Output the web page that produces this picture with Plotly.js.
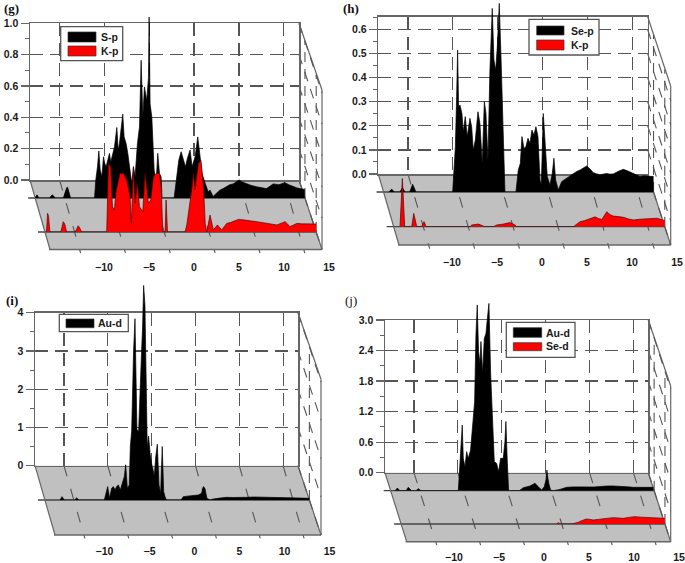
<!DOCTYPE html>
<html><head><meta charset="utf-8">
<script src="https://cdn.plot.ly/plotly-3.0.1.min.js"></script>
<style>html,body{margin:0;padding:0;background:#fff}#c{width:685px;height:563px}</style>
</head><body><div id="c"></div>
<script>
// ---------- data (energy in eV, partial DOS) ----------
const xTickLabels = [-10,-5,0,5,10,15];
const gYTicks = [0,0.2,0.4,0.6,0.8,1.0];
const hYTicks = [0,0.1,0.2,0.3,0.4,0.5,0.6];
const iYTicks = [0,1,2,3,4];
const jYTicks = [0,0.6,1.2,1.8,2.4,3.0];

const gSpX = [-16.32,-16.2,-16.1,-16,-15.92,-14.73,-14.55,-14.4,-14.25,-14.1,-13.17,-13.05,-12.95,-12.8,-12.69,-12.5,-12.36,-9.7,-9.56,-9.37,-9.22,-9.07,-8.89,-8.7,-8.56,-8.41,-8.22,-8.04,-7.89,-7.67,-7.48,-7.22,-7.07,-6.93,-6.7,-6.56,-6.41,-6.19,-6,-5.74,-5.56,-5.37,-5.19,-4.93,-4.7,-4.52,-4.41,-4.33,-4.15,-3.89,-3.7,-3.63,-3.52,-3.33,-3.07,-2.85,-2.67,-2.48,-2.3,-2.19,-0.85,-0.56,-0.33,-0.07,0.19,0.41,0.63,0.93,1.15,1.48,1.78,1.96,2.11,2.26,2.48,2.7,2.93,3.15,3.49,3.85,4.23,4.6,4.97,5.34,5.71,6.05,6.38,6.8,7.19,7.75,8.31,8.85,9.42,9.8,10.16,10.8,11.46,11.9,12.38,12.75,13.12,13.68];
const gSpY = [0,0.015,0.02,0.012,0,0,0.014,0.02,0.013,0,0,0.025,0.05,0.066,0.068,0.035,0,0,0.115,0.2,0.3,0.18,0.136,0.263,0.22,0.2,0.253,0.285,0.23,0.285,0.327,0.45,0.306,0.348,0.476,0.535,0.39,0.348,0.285,0.157,0.093,0.2,0.136,0.348,0.454,0.879,0.688,0.518,0.709,0.624,0.77,1.155,0.6,0.518,0.178,0.093,0.285,0.157,0.136,0,0,0.157,0.242,0.295,0.242,0.2,0.253,0.306,0.2,0.263,0.39,0.306,0.242,0.157,0.115,0.083,0.04,0.05,0.01,0.03,0.05,0.06,0.072,0.085,0.09,0.1,0.115,0.1,0.09,0.08,0.072,0.066,0.06,0.075,0.09,0.085,0.098,0.085,0.072,0.066,0.06,0.055];
const gKpX = [-16.13,-16.07,-16.01,-15.9,-15.76,-14.54,-14.4,-14.28,-14.1,-13.91,-12.95,-12.78,-12.62,-12.45,-12.25,-9.47,-9.28,-9.03,-8.84,-8.62,-8.44,-8,-7.62,-7.25,-6.89,-6.74,-6.52,-6.33,-6.07,-5.85,-5.48,-5.22,-4.86,-4.6,-4.3,-4,-3.64,-3.45,-3.27,-3.01,-2.9,-2.75,-0.8,-0.6,-0.43,-0.2,0,0.13,0.31,0.5,0.68,0.94,1.1,1.23,1.35,1.42,1.59,1.96,2.32,2.77,3.25,3.8,4.2,4.54,4.8,5.09,5.55,6.01,6.55,7.12,7.7,8.23,8.8,9.34,9.8,10.26,10.55,10.81,11.2,11.55,12.1,12.66,13.2,13.69];
const gKpY = [0,0.1,0.119,0.1,0,0,0.05,0.066,0.05,0,0,0.025,0.04,0.025,0,0,0.437,0.416,0.161,0.14,0.257,0.374,0.374,0.331,0.225,0.055,0.416,0.183,0.31,0.161,0.13,0.374,0.183,0.204,0.352,0.374,0.374,0.289,0,0,0.204,0,0,0.05,0.119,0.2,0.3,0.374,0.268,0.36,0.437,0.459,0.38,0.289,0.15,0.055,0,0.108,0.013,0.045,0.013,0.055,0.06,0.066,0.075,0.08,0.078,0.076,0.07,0.066,0.06,0.055,0.05,0.045,0.055,0.066,0.05,0.034,0.045,0.055,0.052,0.051,0.053,0.051];

const hSepX = [-15.7,-15.4,-15.1,-14.5,-14.2,-13.9,-13.4,-13.22,-13.07,-12.9,-12.7,-8.62,-8.47,-8.32,-8.18,-8.07,-7.96,-7.81,-7.59,-7.44,-7.22,-7,-6.7,-6.51,-6.33,-6.1,-5.81,-5.59,-5.33,-5.1,-4.92,-4.7,-4.48,-4.22,-4.03,-3.84,-3.66,-3.44,-3.25,-3.1,-2.92,-2.81,-1.59,-1.33,-1.1,-0.92,-0.7,-0.48,-0.25,-0.03,0.19,0.41,0.63,0.86,1.08,1.23,1.45,1.67,1.89,2.19,2.45,2.63,2.82,3.12,3.49,3.76,4.04,4.4,4.78,5.15,5.53,5.9,6.27,6.65,7.01,7.4,7.75,8.1,8.49,8.85,9.23,9.8,10.34,10.8,11.27,11.75,12.2,12.6,12.94,13.35,13.75];
const hSepY = [0,0.012,0,0,0.017,0,0,0.02,0.032,0.018,0,0,0.077,0.188,0.396,0.589,0.354,0.361,0.326,0.25,0.313,0.23,0.306,0.271,0.174,0.216,0.333,0.285,0.119,0.375,0.326,0.133,0.506,0.762,0.548,0.506,0.603,0.783,0.562,0.396,0.174,0,0,0.091,0.119,0.23,0.181,0.188,0.223,0.202,0.257,0.236,0.271,0.23,0.05,0.029,0.326,0.202,0.064,0.029,0.077,0.14,0.05,0.008,0.043,0.05,0.057,0.068,0.077,0.085,0.091,0.1,0.108,0.095,0.08,0.075,0.071,0.074,0.077,0.074,0.075,0.086,0.094,0.088,0.08,0.072,0.064,0.067,0.066,0.063,0.064];
const hKpX = [-15.6,-15.5,-15.42,-15.34,-15.26,-15.18,-15.08,-14.3,-14.18,-14.08,-13.92,-13.75,-13.2,-13.06,-12.94,-12.83,-12.72,-7.85,-7.66,-6.93,-6.19,-5.27,-4.9,-4.16,-3.42,-2.87,-2.68,3.59,3.95,4.33,4.8,5.25,5.6,5.99,6.35,6.73,7,7.28,7.65,8.02,8.55,9.12,9.7,10.23,10.95,11.7,12.25,12.82,13.3,13.74];
const hKpY = [0,0.07,0.15,0.2,0.14,0.05,0,0,0.035,0.055,0.03,0,0,0.012,0.021,0.012,0,0,0.007,0.011,0,0,0.007,0.011,0.017,0.007,0,0,0.012,0.021,0.025,0.03,0.037,0.041,0.034,0.03,0.045,0.062,0.05,0.044,0.042,0.039,0.032,0.028,0.031,0.032,0.034,0.035,0.03,0.025];

const iAuX = [-14.59,-14.36,-14.1,-12.89,-12.7,-12.47,-9.56,-9.37,-9.18,-8.96,-8.73,-8.54,-8.35,-8.16,-7.97,-7.75,-7.52,-7.29,-7.14,-6.95,-6.73,-6.61,-6.46,-6.35,-6.24,-6.08,-5.97,-5.86,-5.67,-5.48,-5.33,-5.22,-5.1,-4.95,-4.84,-4.69,-4.54,-4.35,-4.12,-3.89,-3.74,-3.55,-3.36,-3.17,-2.99,-2.83,-2.68,-2.53,-0.87,-0.6,0.34,1.1,1.47,1.66,1.85,2.08,2.42,2.8,3.55,4.31,5.05,5.82,6.6,7.33,8.1,8.84,9.6,10.36,11.1,11.87,12.8,13.76];
const iAuY = [0,0.088,0,0,0.061,0,0,0.22,0.35,0.044,0.307,0.35,0.263,0.35,0.395,0.263,0.439,0.614,0.921,0.307,0.395,1.4,1.8,3.03,3.9,4.74,3.03,1.84,1.8,2.76,3.9,4.52,5.61,5.09,2.94,1.36,1.67,1.18,0.85,0.6,1.1,1.46,0.39,0.175,1.4,0.22,0.09,0,0,0.088,0.114,0.13,0.175,0.35,0.307,0.044,0,0.026,0.05,0.07,0.066,0.061,0.07,0.079,0.077,0.079,0.07,0.061,0.058,0.053,0.05,0.044];

const jAuX = [-15.8,-15.54,-15.24,-14.55,-14.3,-13.91,-13.42,-13.15,-12.85,-8.6,-8.49,-8.34,-8.15,-8.03,-7.84,-7.65,-7.46,-7.2,-6.97,-6.74,-6.59,-6.44,-6.29,-6.14,-6.02,-5.83,-5.64,-5.45,-5.3,-5.11,-4.92,-4.73,-4.5,-4.24,-4.01,-3.78,-3.48,-3.29,-3.18,-3.02,-2.87,-1.66,-1.2,-0.44,0.13,0.51,0.89,1.19,1.38,1.49,1.65,1.91,2.22,2.98,3.36,3.74,4.5,5.26,6,6.78,7.5,8.3,9.05,9.81,10.6,11.33,12.5,13.61];
const jAuY = [0,0.052,0,0,0.066,0,0,0.04,0,0,0.308,0.8,1.29,0.636,0.47,0.767,0.636,0.8,1.36,1.75,3.06,3.65,2.73,2.5,2.93,2.31,2.99,3.09,3.36,3.68,2.31,1.36,0.57,0.537,0.374,0.636,0.636,0.963,1.36,0.57,0,0,0.059,0.092,0.144,0.079,0.013,0.079,0.21,0.406,0.177,0.013,0,0.026,0.045,0.066,0.075,0.079,0.075,0.072,0.085,0.092,0.093,0.092,0.078,0.066,0.066,0.066];
const jSeX = [1.38,1.57,1.83,3.08,3.45,3.84,4.3,4.79,5.15,5.55,6.1,6.68,7.25,7.82,8.4,8.95,9.6,10.28,10.95,11.6,12.2,12.74,13.2,13.69];
const jSeY = [0,0.026,0,0,0.015,0.033,0.07,0.098,0.09,0.079,0.09,0.105,0.118,0.125,0.118,0.111,0.13,0.144,0.135,0.131,0.128,0.125,0.12,0.111];

// ---------- panel geometry (page pixels) ----------
const W = 685, H = 563, X_MIN = -16.3, X_MAX = 13.7;
const panels = [
 {tag:'(g)', tagX:11, tagY:8, tagBold:true, L:30, R:299, T:23.3, B:180, F:249.5, LF:50, RF:322, TS:90,
  yTop:1.0, yTicks:gYTicks, yFmt:'.1f', yMinor:0.1, zero:194, labelY:259, clip:2,
  series:[{name:'S-p',x:gSpX,y:gSpY,base:198,color:'#000'},{name:'K-p',x:gKpX,y:gKpY,base:232,color:'#f00'}],
  box:[60.7,122.7,26.7,60.7], swX:[68,96], swY:[[32,42],[46,56]], txtX:99, txtY:[37,51]},
 {tag:'(h)', tagX:351, tagY:8, tagBold:true, L:378.3, R:647.7, T:16.7, B:174, F:245, LF:399, RF:670.7, TS:86,
  yTop:0.653, yTicks:hYTicks, yFmt:'.1f', yMinor:0.05, zero:542, labelY:254, clip:1,
  series:[{name:'Se-p',x:hSepX,y:hSepY,base:192,color:'#000'},{name:'K-p',x:hKpX,y:hKpY,base:226.7,color:'#f00'}],
  box:[529,599,19.3,55], swX:[536.7,564], swY:[[26,35],[40,50]], txtX:569, txtY:[30.7,45]},
 {tag:'(i)', tagX:12, tagY:300, tagBold:true, L:35, R:298, T:312.7, B:465.7, F:535, LF:55, RF:321, TS:379.3,
  yTop:4, yTicks:iYTicks, yFmt:'.0f', yMinor:0.5, zero:194.5, labelY:543, clip:283,
  series:[{name:'Au-d',x:iAuX,y:iAuY,base:500,color:'#000'}],
  box:[59.3,128.3,314.3,331.7], swX:[66,94], swY:[[319,327.7]], txtX:96, txtY:[323.3]},
 {tag:'(j)', tagX:351, tagY:300, tagBold:false, L:385, R:648.3, T:320, B:472.7, F:541.7, LF:406.7, RF:670.7, TS:386,
  yTop:3, yTicks:jYTicks, yFmt:'.1f', yMinor:0.3, zero:544, labelY:549, clip:285,
  series:[{name:'Au-d',x:jAuX,y:jAuY,base:490.7,color:'#000'},{name:'Se-d',x:jSeX,y:jSeY,base:524,color:'#f00'}],
  box:[506.3,575,322.3,357.3], swX:[513.3,541.7], swY:[[327.7,337.3],[342.7,350.7]], txtX:544, txtY:[332.7,345.7]}
];

const GRID = '#555', EDGE = '#666', FLOOR = '#c0c0c0', INK = '#1a1a1a';
const FONT = 'Liberation Sans, Arial, sans-serif';
const fx = p => p / W, fy = p => 1 - p / H;

const layout = {width:W, height:H, margin:{l:0,r:0,t:0,b:0}, paper_bgcolor:'#fff', plot_bgcolor:'rgba(0,0,0,0)',
  showlegend:false, hovermode:false, shapes:[], annotations:[]};
const traces = [];
let axisN = 0;
function addAxes(xa, ya){
  axisN++;
  const s = axisN === 1 ? '' : String(axisN);
  layout['xaxis'+s] = Object.assign({anchor:'y'+s, fixedrange:true, zeroline:false}, xa);
  layout['yaxis'+s] = Object.assign({anchor:'x'+s, fixedrange:true, zeroline:false}, ya);
  return ['x'+s, 'y'+s];
}
// an invisible trace that makes Plotly draw an axis pair that has no marks of its own
function holdAxes(ref, x, y){
  traces.push({type:'scatter', mode:'markers', x:[x], y:[y], xaxis:ref[0], yaxis:ref[1],
    marker:{opacity:0, size:1}, hoverinfo:'skip', showlegend:false});
}
function seg(x0,y0,x1,y1,color,width,dash,layer){
  layout.shapes.push({type:'line', xref:'paper', yref:'paper', x0:fx(x0), y0:fy(y0), x1:fx(x1), y1:fy(y1),
    line:{color:color, width:width, dash:dash||'solid'}, layer:layer||'below'});
}
function text(x,y,t,opts){
  layout.annotations.push(Object.assign({xref:'paper', yref:'paper', x:fx(x), y:fy(y), text:t, showarrow:false,
    xanchor:'left', yanchor:'middle', font:{family:FONT, size:10.5, color:INK, weight:700}}, opts||{}));
}
const tickVals = [-13,-8,-3,2,7,12];   // back-wall grid positions

panels.forEach(p => {
  const depth = p.F - p.B;
  const leftAt  = y => p.L + (p.LF - p.L) * (y - p.B) / depth;
  const rightAt = y => p.R + (p.RF - p.R) * (y - p.B) / depth;
  const scale = (p.B - p.T) / p.yTop;

  // floor
  layout.shapes.push({type:'path', xref:'paper', yref:'paper', layer:'below', fillcolor:FLOOR, line:{width:0},
    path:`M${fx(p.L)},${fy(p.B)} L${fx(p.R)},${fy(p.B)} L${fx(p.RF)},${fy(p.F)} L${fx(p.LF)},${fy(p.F)} Z`});
  // floor grid
  tickVals.forEach(t => {
    const wx = p.L + (t - X_MIN) / (X_MAX - X_MIN) * (p.R - p.L);
    const dx = (p.LF - p.L);
    seg(wx, p.B, wx + dx*1.05, p.F + depth*0.05, GRID, 1.1, '11px,13px');
  });
  // series baselines and floor edges
  p.series.forEach(s => seg(leftAt(s.base) - 7, s.base, rightAt(s.base), s.base, '#444', 1.3));
  seg(p.L, p.B, p.LF, p.F, EDGE, 1.2);
  seg(p.R, p.B, p.RF, p.F, EDGE, 1.2);
  seg(p.LF - 1, p.F, p.RF, p.F, EDGE, 1.5);
  // side wall
  seg(p.R, p.T, p.RF, p.TS, EDGE, 1.2);
  seg(p.RF, p.TS, p.RF, p.F, EDGE, 1.2);
  p.yTicks.forEach(v => {
    const y = p.B - v * scale;
    seg(p.R, y, p.RF, y + depth, GRID, 1.1, '10px,8px');
  });
  p.series.forEach(s => seg(rightAt(s.base), s.base, rightAt(s.base), s.base - (p.B - p.T), GRID, 1.1, '10px,7px'));

  // back wall
  holdAxes(addAxes(
    {domain:[fx(p.L),fx(p.R)], range:[X_MIN,X_MAX], tickmode:'array', tickvals:tickVals, showticklabels:false,
     showgrid:true, gridcolor:GRID, gridwidth:1.2, griddash:'13px,7px', ticks:'', showline:true, linecolor:EDGE, linewidth:1.5, mirror:true},
    {domain:[fy(p.B),fy(p.T)], range:[0,p.yTop], tickmode:'array', tickvals:p.yTicks, tickformat:p.yFmt,
     tickfont:{family:FONT,size:10.5,color:INK,weight:700}, ticks:'outside', ticklen:8, tickcolor:EDGE, tickwidth:1.2,
     minor:{dtick:p.yMinor, ticks:'outside', ticklen:4, tickcolor:EDGE, tickwidth:1, showgrid:false},
     showgrid:true, gridcolor:GRID, gridwidth:1.2, griddash:'13px,7px', showline:true, linecolor:EDGE, linewidth:1.5, mirror:true}
  ), 0, 0);

  // one floating pair of axes per series, sitting on its own baseline
  p.series.forEach(s => {
    const h = s.base - p.clip;
    const [xr, yr] = addAxes(
      {domain:[fx(leftAt(s.base)),fx(rightAt(s.base))], range:[X_MIN,X_MAX], visible:false},
      {domain:[fy(s.base),fy(p.clip)], range:[0,h/scale], visible:false}
    );
    traces.push({type:'scatter', mode:'lines', name:s.name, x:s.x, y:s.y, xaxis:xr, yaxis:yr,
      fill:'tozeroy', fillcolor:s.color, line:{color:s.color === '#f00' ? '#5a0000' : '#000', width:0.7}, hoverinfo:'skip'});
  });

  // energy labels along the front
  const hi = 15.5;
  holdAxes(addAxes(
    {domain:[fx(p.zero - 15*9),fx(p.zero + hi*9)], range:[-15,hi], tickmode:'array', tickvals:xTickLabels, ticks:'', ticklen:0,
     showgrid:false, showline:false, tickfont:{family:FONT,size:10.5,color:INK,weight:700}},
    {domain:[fy(p.labelY),fy(p.labelY-4)], range:[0,1], visible:false}
  ), 0, 0);

  // panel tag
  text(p.tagX, p.tagY, p.tag, {xanchor:'center', font:{family:'Liberation Serif, serif', size:13, color:'#111', weight:p.tagBold?700:400}});

  // legend box
  layout.shapes.push({type:'rect', xref:'paper', yref:'paper', layer:'above', x0:fx(p.box[0]), x1:fx(p.box[1]), y0:fy(p.box[2]), y1:fy(p.box[3]),
    fillcolor:'#fff', line:{color:'#555', width:1.3}});
  p.series.forEach((s,i) => {
    layout.shapes.push({type:'rect', xref:'paper', yref:'paper', layer:'above', x0:fx(p.swX[0]), x1:fx(p.swX[1]),
      y0:fy(p.swY[i][0]), y1:fy(p.swY[i][1]), fillcolor:s.color, line:{color:'#333', width:0.7}});
    text(p.txtX, p.txtY[i], s.name);
  });
});

Plotly.newPlot('c', traces, layout, {displayModeBar:false, staticPlot:true});
</script></body></html>
